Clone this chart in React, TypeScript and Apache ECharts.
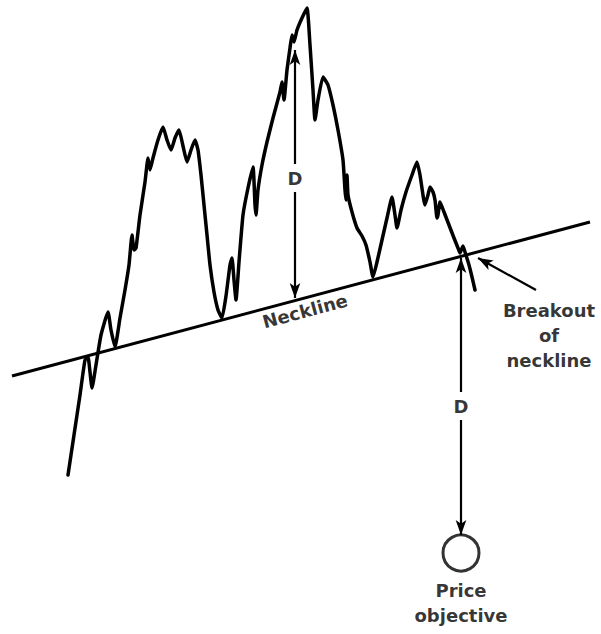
import React, { useEffect, useRef } from "react";
import * as echarts from "echarts";

// Price path: time (x) and level measured from the top of the figure (y)
const priceX = [68,74,80,85,88,90,92,96,101,108,111,115,120,125,129,132,134,136,140,145,148,150,153,158,163,167,171,175,179,183,187,191,195,198,201,204,207,210,214,218,222,226,230,232,234,236,239,243,248,253,255,256,258,262,267,273,280,282,284,287,290,292,294,297,302,307,310,313,315,318,323,328,333,338,343,345,346,347,348,352,357,362,366,370,373,377,382,387,392,395,397,401,406,412,417,420,425,428,430,433,435,437,438,440,444,449,454,458,460,463,465,469,472,475];
const priceY = [475,435,395,360,357,372,388,365,335,312,330,347,318,290,265,235,250,248,215,182,158,170,158,140,127,140,150,138,130,146,162,150,140,150,175,205,235,265,292,310,318,296,265,258,280,300,262,215,188,167,205,215,190,165,142,118,92,82,100,70,48,35,42,30,18,8,45,90,120,100,77,85,105,130,160,190,200,175,195,212,228,236,245,262,277,262,240,218,197,215,228,210,192,175,162,175,205,195,187,192,200,218,215,202,212,225,238,248,253,246,252,265,277,290];

const necklineX = [12, 590];
const necklineY = [376, 222];

// Arrow segments [x1, y1, x2(tip), y2(tip)]
const arrowSegments = [
  [295, 164, 295, 50],
  [295, 192, 295, 298],
  [461, 392, 461, 258],
  [461, 420, 461, 535],
  [536, 290, 478, 258],
];

const objective = [461, 553];

const labels = [
  { text: "D", x: 295, y: 178, rotate: 0 },
  { text: "D", x: 461, y: 406, rotate: 0 },
  { text: "Neckline", x: 305, y: 311, rotate: 15 },
  { text: "Breakout\nof\nneckline", x: 549, y: 335, rotate: 0 },
  { text: "Price\nobjective", x: 461, y: 603, rotate: 0 },
];

export default function App() {
  const ref = useRef<HTMLDivElement>(null);
  useEffect(() => {
    if (!ref.current) return;
    const chart = echarts.init(ref.current, null, { renderer: "svg" });
    const price = priceX.map((x, i) => [x, priceY[i]]);
    const neck = necklineX.map((x, i) => [x, necklineY[i]]);
    const font = "DejaVu Sans";
    chart.setOption({
      animation: false,
      backgroundColor: "#ffffff",
      grid: { left: 0, right: 0, top: 0, bottom: 0 },
      xAxis: { type: "value", min: 0, max: 601, show: false },
      yAxis: { type: "value", min: 0, max: 634, inverse: true, show: false },
      series: [
        {
          type: "line",
          data: neck,
          symbol: "none",
          lineStyle: { color: "#000", width: 3 },
          silent: true,
        },
        {
          type: "line",
          data: price,
          symbol: "none",
          smooth: 0.15,
          lineStyle: { color: "#000", width: 3.5, join: "round", cap: "round" },
          silent: true,
          markLine: {
            silent: true,
            symbol: ["none", "arrow"],
            symbolSize: [8, 15],
            label: { show: false },
            lineStyle: { color: "#000", width: 2.2, type: "solid" },
            data: arrowSegments.map((s) => [
              { coord: [s[0], s[1]] },
              { coord: [s[2], s[3]] },
            ]),
          },
        },
        {
          type: "scatter",
          data: [objective],
          symbol: "circle",
          symbolSize: 36,
          itemStyle: { color: "#fff", borderColor: "#000", borderWidth: 3 },
          silent: true,
          z: 5,
        },
        {
          type: "scatter",
          symbolSize: 0,
          silent: true,
          data: labels.map((l) => ({
            value: [l.x, l.y],
            label: {
              show: true,
              position: "inside",
              formatter: l.text,
              rotate: l.rotate,
              fontFamily: font,
              fontSize: 18,
              fontWeight: "bold",
              color: "#000",
              textBorderWidth: 0,
              lineHeight: 25,
              align: "center",
              verticalAlign: "middle",
            },
          })),
        },
      ],
    });
    return () => chart.dispose();
  }, []);
  return (
    <div
      ref={ref}
      style={{ position: "fixed", left: 0, top: 0, width: 601, height: 634 }}
    />
  );
}
